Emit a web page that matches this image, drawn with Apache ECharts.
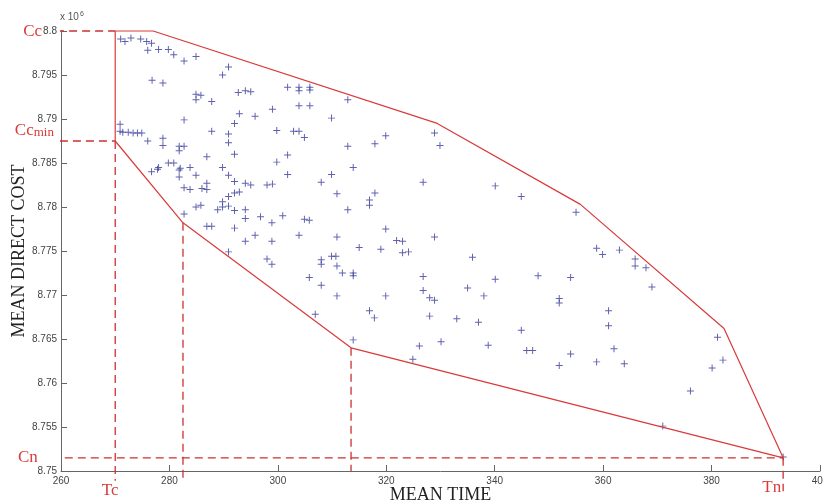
<!DOCTYPE html>
<html>
<head>
<meta charset="utf-8">
<script src="https://cdn.jsdelivr.net/npm/echarts@6/dist/echarts.min.js"></script>
<style>
html, body { margin: 0; padding: 0; background: #fff; }
#chart { width: 823px; height: 503px; }
</style>
</head>
<body>
<div id="chart"></div>
<script>
// scatter of simulated schedules: mean time vs mean direct cost (x 10^6)
var meanTime = [
    271.0, 271.8, 272.9, 274.7, 275.8, 276.7, 276.0, 278.0, 279.8, 280.8,
    282.7, 284.9, 290.9, 289.8, 276.8, 278.8, 284.9, 285.8, 284.9, 287.8,
    292.7, 294.0, 295.0, 299.0, 292.9, 295.8, 282.7, 292.0, 270.9, 270.9,
    271.4, 272.4, 273.3, 274.1, 274.9, 287.8, 290.9, 290.9, 299.8, 276.0,
    278.8, 278.8, 281.8, 282.7, 281.8, 286.9, 292.0, 299.8, 278.0, 279.8,
    280.8, 282.0, 283.8, 289.8,
    301.8, 303.9, 303.9, 305.9, 305.9, 312.9, 303.9, 305.9, 309.9, 302.9,
    303.9, 304.9, 312.9, 317.9, 319.9, 301.8, 313.9,
    328.9, 329.9, 326.8, 340.1, 344.9, 355.0,
    323.0, 323.0, 324.1, 328.9, 335.9, 358.8, 326.8, 340.1, 348.0, 354.0,
    326.8, 328.0, 328.9, 335.0, 338.0, 351.9, 351.9, 328.0, 333.0, 337.0,
    344.9, 326.1, 330.1, 338.8, 324.9, 345.9, 347.0, 354.0, 351.9, 358.8,
    359.9, 363.0, 365.9, 365.9, 367.9, 369.0, 361.0, 361.0, 362.0, 363.9,
    381.1, 382.1, 380.1, 376.1, 371.0, 393.2,
    276.7, 277.8, 281.8, 281.8, 284.9, 290.9, 292.0, 294.0, 295.0, 298.0,
    299.0, 282.7, 283.8, 286.0, 286.9, 286.9, 290.9, 292.0, 292.9, 289.8,
    284.9, 285.8, 288.9, 289.8, 290.9, 292.0, 294.0, 282.7, 294.0, 296.8,
    298.9, 286.9, 287.8, 292.0, 295.8, 294.0, 298.9, 290.9, 298.0, 298.9,
    301.8, 309.9, 308.0, 310.9, 317.9, 316.9, 316.9, 312.9, 300.9, 304.9,
    305.8, 303.9, 310.9, 315.0, 319.0, 319.9, 321.9,
    308.0, 308.0, 309.9, 310.7, 310.9, 311.9, 313.9, 313.9, 305.8, 308.0,
    310.9, 319.9,
    306.9, 316.9, 317.8, 313.9
];
var meanCost = [
    8.7991, 8.7988, 8.7992, 8.7991, 8.7988, 8.7986, 8.7978, 8.7979, 8.7979, 8.7973,
    8.7966, 8.7971, 8.7959, 8.7950, 8.7944, 8.7941, 8.7928, 8.7927, 8.7922, 8.7920,
    8.7930, 8.7932, 8.7931, 8.7911, 8.7906, 8.7903, 8.7899, 8.7895, 8.7894, 8.7886,
    8.7885, 8.7885, 8.7884, 8.7884, 8.7884, 8.7886, 8.7883, 8.7873, 8.7887, 8.7875,
    8.7878, 8.7870, 8.7869, 8.7869, 8.7864, 8.7857, 8.7860, 8.7851, 8.7845, 8.7850,
    8.7850, 8.7844, 8.7845, 8.7845,
    8.7936, 8.7936, 8.7932, 8.7936, 8.7933, 8.7922, 8.7915, 8.7915, 8.7901, 8.7886,
    8.7886, 8.7879, 8.7869, 8.7872, 8.7881, 8.7859, 8.7845,
    8.7884, 8.7870, 8.7828, 8.7824, 8.7812, 8.7794,
    8.7761, 8.7748, 8.7749, 8.7766, 8.7743, 8.7753, 8.7721, 8.7718, 8.7722, 8.7720,
    8.7705, 8.7697, 8.7694, 8.7708, 8.7699, 8.7696, 8.7691, 8.7676, 8.7673, 8.7669,
    8.7660, 8.7642, 8.7647, 8.7643, 8.7627, 8.7637, 8.7637, 8.7633, 8.7620, 8.7624,
    8.7746, 8.7751, 8.7741, 8.7733, 8.7731, 8.7709, 8.7682, 8.7665, 8.7639, 8.7622,
    8.7652, 8.7626, 8.7617, 8.7591, 8.7551, 8.7516,
    8.7840, 8.7843, 8.7842, 8.7834, 8.7836, 8.7836, 8.7829, 8.7827, 8.7825, 8.7825,
    8.7826, 8.7822, 8.7820, 8.7821, 8.7827, 8.7820, 8.7812, 8.7816, 8.7817, 8.7806,
    8.7800, 8.7802, 8.7797, 8.7800, 8.7801, 8.7796, 8.7797, 8.7792, 8.7787, 8.7789,
    8.7782, 8.7778, 8.7778, 8.7776, 8.7768, 8.7761, 8.7761, 8.7749, 8.7741, 8.7735,
    8.7837, 8.7837, 8.7828, 8.7815, 8.7816, 8.7808, 8.7802, 8.7797, 8.7790, 8.7786,
    8.7785, 8.7768, 8.7766, 8.7754, 8.7752, 8.7775, 8.7762,
    8.7740, 8.7735, 8.7744, 8.7744, 8.7733, 8.7725, 8.7725, 8.7722, 8.7720, 8.7711,
    8.7699, 8.7699,
    8.7678, 8.7682, 8.7674, 8.7649
];

// envelope polygon
var hullTime = [270, 277, 329.4, 355.8, 382.3, 393.2, 313.5, 282.5, 270, 270];
var hullCost = [8.8, 8.8, 8.7895, 8.7803, 8.7662, 8.7515, 8.764, 8.7782, 8.7875, 8.8];

// guide levels
var costCc = 8.8, costCcMin = 8.7875, costCn = 8.7515;
var timeTc = 270, timeMid1 = 282.5, timeMid2 = 313.5, timeTn = 393.2;
var guideLeft = 256.3;      // where horizontal dashes start (left of axis)
var guideBottom = 8.7489;   // where vertical dashes end (below axis)

var xTicks = [260, 400, 20];
var yTicks = [8.75, 8.8, 0.005];

var red = '#d93a3a';
var dashRed = '#cc3030';
var plus = 'path://M4.3,0h1.4v4.3h4.3v1.4h-4.3v4.3h-1.4v-4.3h-4.3v-1.4h4.3z';
var serif = '"Liberation Serif", "DejaVu Serif", serif';

function zip(xs, ys) {
    var out = [];
    for (var i = 0; i < xs.length; i++) out.push([xs[i], ys[i]]);
    return out;
}

function dashed(data) {
    return {
        type: 'line',
        data: data,
        symbol: 'none',
        clip: false,
        silent: true,
        z: 4,
        lineStyle: { color: dashRed, width: 1.3, type: [8, 5] }
    };
}

var chart = echarts.init(document.getElementById('chart'));

option = {
    animation: false,
    grid: { left: 61, right: 3, top: 31, bottom: 32, outerBoundsMode: 'none', containLabel: false },
    xAxis: {
        type: 'value',
        min: xTicks[0],
        max: xTicks[1],
        interval: xTicks[2],
        name: 'MEAN TIME',
        nameLocation: 'middle',
        nameGap: 15,
        nameMoveOverlap: false,
        nameTextStyle: { fontFamily: serif, fontSize: 18, color: '#222' },
        axisLine: { lineStyle: { color: '#666', width: 1 } },
        axisTick: { inside: true, length: 6, lineStyle: { color: '#666' } },
        axisLabel: { color: '#444', fontSize: 10, fontFamily: 'Liberation Sans', margin: 5 },
        splitLine: { show: false }
    },
    yAxis: {
        type: 'value',
        min: yTicks[0],
        max: yTicks[1],
        interval: yTicks[2],
        name: 'MEAN DIRECT COST',
        nameLocation: 'middle',
        nameGap: 33,
        nameMoveOverlap: false,
        nameTextStyle: { fontFamily: serif, fontSize: 18, color: '#222' },
        axisLine: { lineStyle: { color: '#666', width: 1 } },
        axisTick: { inside: true, length: 6, lineStyle: { color: '#666' } },
        axisLabel: {
            color: '#444', fontSize: 10, fontFamily: 'Liberation Sans', margin: 4,
            formatter: function (v) { return String(parseFloat(v.toFixed(3))); }
        },
        splitLine: { show: false }
    },
    series: [
        {
            type: 'scatter',
            data: zip(meanTime, meanCost),
            symbol: plus,
            symbolSize: 7,
            itemStyle: { color: '#373a98' },
            z: 2
        },
        {
            type: 'line',
            data: zip(hullTime, hullCost),
            symbol: 'none',
            clip: false,
            z: 5,
            lineStyle: { color: red, width: 1.2 }
        },
        dashed([[guideLeft + 0.4, costCc], [timeTc, costCc]]),
        dashed([[guideLeft + 1.1, costCcMin], [timeTc, costCcMin]]),
        dashed([[guideLeft - 0.4, costCn], [timeTn, costCn]]),
        dashed([[timeTc, costCcMin], [timeTc, guideBottom]]),
        dashed([[timeMid1, 8.7782], [timeMid1, guideBottom]]),
        dashed([[timeMid2, 8.764], [timeMid2, 8.75]]),
        dashed([[timeTn, costCn], [timeTn, 8.7477]])
    ]
};

chart.setOption(option);

// red guide labels and exponent, placed through the chart's scales
function px(x, y) { return chart.convertToPixel({ gridIndex: 0 }, [x, y]); }
var redFont = '17px ' + serif;
var pCc = px(guideLeft + 0.4, costCc);
var pCcMin = px(guideLeft + 1.1, costCcMin);
var pCn = px(guideLeft - 0.4, costCn);
var pTc = px(timeTc, guideBottom);
var pTn = px(timeTn, 8.7477);
var pTop = px(xTicks[0], yTicks[1]);

chart.setOption({
    graphic: [
        { type: 'text', x: pCc[0] - 1, y: pCc[1] + 1, style: { text: 'Cc', font: redFont, fill: red, align: 'right', verticalAlign: 'middle' } },
        {
            type: 'text', x: pCcMin[0] + 7, y: pCcMin[1] - 2,
            style: {
                text: '{a|Cc}{b|min}', align: 'right', verticalAlign: 'bottom',
                rich: {
                    a: { font: redFont, fill: red },
                    b: { font: '13px ' + serif, fill: red, verticalAlign: 'bottom' }
                }
            }
        },
        { type: 'text', x: pCn[0] - 1, y: pCn[1], style: { text: 'Cn', font: redFont, fill: red, align: 'right', verticalAlign: 'middle' } },
        { type: 'text', x: pTc[0] - 5, y: pTc[1] + 1, style: { text: 'Tc', font: redFont, fill: red, align: 'center', verticalAlign: 'top' } },
        { type: 'text', x: pTn[0] - 2, y: pTn[1] - 4, style: { text: 'Tn', font: redFont, fill: red, align: 'right', verticalAlign: 'middle' } },
        {
            type: 'text', x: pTop[0] - 1, y: pTop[1] - 7,
            style: {
                text: '{a|x 10}{b|6}', align: 'left', verticalAlign: 'bottom',
                rich: {
                    a: { font: '10px Liberation Sans', fill: '#555' },
                    b: { font: '7px Liberation Sans', fill: '#555', verticalAlign: 'top', padding: [0, 0, 6, 1] }
                }
            }
        }
    ]
});
</script>
</body>
</html>
